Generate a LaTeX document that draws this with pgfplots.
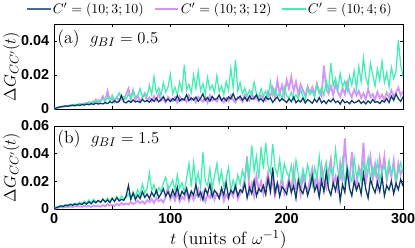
\documentclass[border=0pt]{standalone}
\usepackage{fontspec}
\usepackage{pgfplots}
\usepackage{pgfplotstable}
\pgfplotsset{compat=1.18}
\newfontfamily\tickfont{Liberation Sans}
\definecolor{cnavy}{RGB}{12,58,102}
\definecolor{cpurple}{RGB}{212,150,245}
\definecolor{cgreen}{RGB}{64,240,176}

\pgfplotstableread{
t n p g
0 0.0002 0.0001 0.0003
2 0.0006 0.0005 0.0008
4 0.0010 0.0009 0.0011
6 0.0013 0.0012 0.0015
8 0.0015 0.0016 0.0013
10 0.0018 0.0015 0.0019
12 0.0016 0.0020 0.0017
14 0.0020 0.0018 0.0024
16 0.0022 0.0023 0.0021
18 0.0019 0.0020 0.0028
20 0.0024 0.0026 0.0025
22 0.0021 0.0024 0.0032
24 0.0026 0.0030 0.0027
26 0.0023 0.0026 0.0036
28 0.0029 0.0035 0.0030
30 0.0025 0.0028 0.0042
32 0.0031 0.0040 0.0034
34 0.0027 0.0032 0.0048
36 0.0034 0.0055 0.0038
38 0.0029 0.0036 0.0055
40 0.0033 0.0046 0.0043
42 0.0030 0.0075 0.0062
44 0.0038 0.0042 0.0046
46 0.0032 0.0105 0.0070
48 0.0044 0.0050 0.0051
50 0.0036 0.0062 0.0082
52 0.0049 0.0041 0.0055
54 0.0038 0.0070 0.0068
56 0.0045 0.0048 0.0095
58 0.0080 0.0063 0.0060
60 0.0042 0.0052 0.0074
62 0.0036 0.0085 0.0058
64 0.0048 0.0120 0.0088
66 0.0039 0.0060 0.0063
68 0.0053 0.0110 0.0105
70 0.0041 0.0054 0.0070
72 0.0047 0.0078 0.0080
74 0.0038 0.0046 0.0120
76 0.0056 0.0065 0.0066
78 0.0043 0.0092 0.0094
80 0.0050 0.0050 0.0078
82 0.0040 0.0068 0.0140
84 0.0058 0.0045 0.0085
86 0.0045 0.0076 0.0190
88 0.0064 0.0053 0.0092
90 0.0042 0.0088 0.0125
92 0.0055 0.0048 0.0080
94 0.0073 0.0062 0.0155
96 0.0046 0.0039 0.0100
98 0.0059 0.0071 0.0130
100 0.0044 0.0055 0.0205
102 0.0062 0.0046 0.0090
104 0.0050 0.0069 0.0128
106 0.0078 0.0038 0.0082
108 0.0047 0.0074 0.0160
110 0.0060 0.0050 0.0105
112 0.0053 0.0061 0.0260
114 0.0084 0.0042 0.0112
116 0.0049 0.0080 0.0145
118 0.0065 0.0053 0.0095
120 0.0052 0.0064 0.0200
122 0.0070 0.0039 0.0120
124 0.0045 0.0072 0.0220
126 0.0063 0.0056 0.0108
128 0.0089 0.0043 0.0150
130 0.0051 0.0068 0.0088
132 0.0068 0.0037 0.0185
134 0.0046 0.0079 0.0115
136 0.0074 0.0049 0.0140
138 0.0055 0.0060 0.0096
140 0.0061 0.0044 0.0195
142 0.0082 0.0073 0.0102
144 0.0050 0.0051 0.0136
146 0.0066 0.0038 0.0085
148 0.0048 0.0065 0.0162
150 0.0071 0.0046 0.0110
152 0.0059 0.0081 0.0240
154 0.0090 0.0054 0.0125
156 0.0054 0.0039 0.0290
158 0.0063 0.0070 0.0106
160 0.0076 0.0057 0.0155
162 0.0052 0.0043 0.0088
164 0.0069 0.0084 0.0124
166 0.0047 0.0060 0.0076
168 0.0077 0.0048 0.0110
170 0.0058 0.0095 0.0082
172 0.0064 0.0056 0.0158
174 0.0083 0.0072 0.0090
176 0.0051 0.0045 0.0068
178 0.0060 0.0080 0.0120
180 0.0044 0.0063 0.0075
182 0.0072 0.0050 0.0105
184 0.0056 0.0102 0.0066
186 0.0065 0.0074 0.0160
188 0.0039 0.0125 0.0080
190 0.0058 0.0065 0.0118
192 0.0070 0.0168 0.0072
194 0.0046 0.0090 0.0096
196 0.0061 0.0140 0.0060
198 0.0050 0.0078 0.0130
200 0.0038 0.0170 0.0078
202 0.0060 0.0120 0.0064
204 0.0043 0.0190 0.0098
206 0.0071 0.0105 0.0056
208 0.0037 0.0160 0.0085
210 0.0052 0.0088 0.0060
212 0.0041 0.0145 0.0115
214 0.0064 0.0110 0.0070
216 0.0035 0.0076 0.0052
218 0.0055 0.0132 0.0120
220 0.0046 0.0095 0.0084
222 0.0034 0.0128 0.0105
224 0.0058 0.0084 0.0072
226 0.0040 0.0150 0.0140
228 0.0067 0.0102 0.0090
230 0.0036 0.0075 0.0125
232 0.0049 0.0255 0.0080
234 0.0032 0.0118 0.0165
236 0.0053 0.0090 0.0110
238 0.0042 0.0135 0.0270
240 0.0060 0.0082 0.0135
242 0.0038 0.0146 0.0180
244 0.0047 0.0100 0.0115
246 0.0029 0.0072 0.0210
248 0.0055 0.0123 0.0128
250 0.0037 0.0086 0.0165
252 0.0044 0.0158 0.0105
254 0.0031 0.0094 0.0195
256 0.0049 0.0068 0.0140
258 0.0036 0.0115 0.0225
260 0.0041 0.0080 0.0120
262 0.0052 0.0106 0.0250
264 0.0033 0.0065 0.0160
266 0.0045 0.0092 0.0300
268 0.0030 0.0058 0.0185
270 0.0048 0.0118 0.0140
272 0.0035 0.0070 0.0270
274 0.0056 0.0088 0.0200
276 0.0039 0.0056 0.0135
278 0.0044 0.0100 0.0235
280 0.0032 0.0064 0.0170
282 0.0050 0.0085 0.0280
284 0.0041 0.0054 0.0155
286 0.0062 0.0096 0.0215
288 0.0038 0.0068 0.0130
290 0.0075 0.0110 0.0245
292 0.0051 0.0072 0.0180
294 0.0088 0.0098 0.0220
296 0.0060 0.0125 0.0405
298 0.0045 0.0080 0.0260
300 0.0072 0.0105 0.0190
}\dataA

\pgfplotstableread{
t n p g
0 0.0003 0.0002 0.0004
2 0.0010 0.0006 0.0012
4 0.0016 0.0010 0.0020
6 0.0022 0.0013 0.0026
8 0.0019 0.0011 0.0022
10 0.0028 0.0016 0.0032
12 0.0024 0.0014 0.0028
14 0.0033 0.0019 0.0038
16 0.0027 0.0015 0.0031
18 0.0036 0.0022 0.0042
20 0.0030 0.0018 0.0035
22 0.0040 0.0020 0.0050
24 0.0032 0.0016 0.0036
26 0.0046 0.0024 0.0056
28 0.0035 0.0018 0.0042
30 0.0052 0.0021 0.0065
32 0.0038 0.0015 0.0046
34 0.0058 0.0026 0.0070
36 0.0044 0.0019 0.0052
38 0.0062 0.0023 0.0060
40 0.0048 0.0017 0.0048
42 0.0070 0.0028 0.0074
44 0.0050 0.0020 0.0054
46 0.0065 0.0034 0.0080
48 0.0046 0.0024 0.0060
50 0.0078 0.0030 0.0072
52 0.0054 0.0022 0.0058
54 0.0082 0.0038 0.0088
56 0.0058 0.0026 0.0064
58 0.0070 0.0044 0.0095
60 0.0062 0.0030 0.0070
62 0.0095 0.0040 0.0082
64 0.0170 0.0032 0.0110
66 0.0070 0.0050 0.0076
68 0.0115 0.0036 0.0125
70 0.0068 0.0046 0.0090
72 0.0102 0.0060 0.0140
74 0.0075 0.0042 0.0100
76 0.0125 0.0055 0.0180
78 0.0084 0.0038 0.0115
80 0.0108 0.0064 0.0150
82 0.0076 0.0050 0.0260
84 0.0120 0.0072 0.0130
86 0.0090 0.0044 0.0175
88 0.0135 0.0080 0.0110
90 0.0082 0.0056 0.0155
92 0.0110 0.0068 0.0124
94 0.0145 0.0048 0.0190
96 0.0092 0.0092 0.0230
98 0.0124 0.0160 0.0140
100 0.0086 0.0070 0.0170
102 0.0138 0.0105 0.0210
104 0.0095 0.0062 0.0135
106 0.0160 0.0120 0.0245
108 0.0080 0.0054 0.0150
110 0.0128 0.0090 0.0190
112 0.0104 0.0070 0.0125
114 0.0150 0.0135 0.0225
116 0.0078 0.0058 0.0330
118 0.0130 0.0110 0.0160
120 0.0100 0.0066 0.0335
122 0.0175 0.0098 0.0180
124 0.0090 0.0145 0.0260
126 0.0122 0.0075 0.0155
128 0.0065 0.0120 0.0410
130 0.0146 0.0055 0.0200
132 0.0108 0.0102 0.0170
134 0.0180 0.0080 0.0290
136 0.0088 0.0150 0.0145
138 0.0134 0.0068 0.0240
140 0.0112 0.0115 0.0330
142 0.0075 0.0086 0.0190
144 0.0152 0.0130 0.0275
146 0.0100 0.0058 0.0160
148 0.0190 0.0105 0.0220
150 0.0084 0.0074 0.0300
152 0.0136 0.0126 0.0135
154 0.0115 0.0090 0.0210
156 0.0165 0.0168 0.0150
158 0.0096 0.0072 0.0245
160 0.0140 0.0110 0.0180
162 0.0120 0.0145 0.0280
164 0.0185 0.0220 0.0210
166 0.0080 0.0380 0.0350
168 0.0155 0.0120 0.0240
170 0.0110 0.0185 0.0460
172 0.0205 0.0095 0.0275
174 0.0094 0.0240 0.0380
176 0.0148 0.0135 0.0220
178 0.0126 0.0200 0.0450
180 0.0170 0.0108 0.0290
182 0.0104 0.0175 0.0480
184 0.0220 0.0260 0.0310
186 0.0130 0.0125 0.0260
188 0.0300 0.0215 0.0470
190 0.0115 0.0098 0.0300
192 0.0188 0.0180 0.0245
194 0.0090 0.0145 0.0360
196 0.0162 0.0235 0.0200
198 0.0138 0.0110 0.0330
200 0.0106 0.0160 0.0270
202 0.0195 0.0220 0.0230
204 0.0120 0.0128 0.0315
206 0.0168 0.0285 0.0190
208 0.0075 0.0150 0.0350
210 0.0210 0.0195 0.0250
212 0.0140 0.0105 0.0185
214 0.0112 0.0250 0.0290
216 0.0180 0.0165 0.0215
218 0.0098 0.0130 0.0320
220 0.0155 0.0210 0.0240
222 0.0240 0.0290 0.0170
224 0.0130 0.0170 0.0300
226 0.0175 0.0240 0.0225
228 0.0086 0.0120 0.0380
230 0.0205 0.0310 0.0200
232 0.0124 0.0195 0.0270
234 0.0270 0.0150 0.0340
236 0.0145 0.0270 0.0195
238 0.0100 0.0360 0.0295
240 0.0190 0.0180 0.0250
242 0.0132 0.0235 0.0430
244 0.0225 0.0140 0.0280
246 0.0060 0.0330 0.0220
248 0.0178 0.0200 0.0355
250 0.0120 0.0510 0.0180
252 0.0285 0.0250 0.0310
254 0.0150 0.0185 0.0245
256 0.0095 0.0410 0.0200
258 0.0200 0.0220 0.0370
260 0.0135 0.0160 0.0230
262 0.0185 0.0300 0.0290
264 0.0108 0.0245 0.0195
266 0.0255 0.0480 0.0330
268 0.0142 0.0190 0.0260
270 0.0080 0.0280 0.0370
272 0.0215 0.0380 0.0210
274 0.0160 0.0215 0.0305
276 0.0118 0.0320 0.0245
278 0.0194 0.0175 0.0340
280 0.0126 0.0365 0.0205
282 0.0230 0.0260 0.0285
284 0.0095 0.0380 0.0310
286 0.0170 0.0205 0.0225
288 0.0138 0.0305 0.0350
290 0.0202 0.0230 0.0255
292 0.0110 0.0350 0.0300
294 0.0186 0.0180 0.0210
296 0.0140 0.0330 0.0270
298 0.0215 0.0250 0.0335
300 0.0165 0.0290 0.0260
}\dataB

\pgfplotsset{
  panel/.style={
    scale only axis,
    width=252.3pt,
    xmin=0, xmax=300,
    ymin=0,
    xtick={0,50,...,300},
    axis line style={line width=0.6pt},
    major tick length=2.5pt,
    tick style={line width=0.5pt, black},
    scaled ticks=false,
    tick label style={font=\tickfont\bfseries\fontsize{10.4}{12}\selectfont},
    /pgf/number format/assume math mode=true,
    ylabel={$\Delta G_{CC'}(t)$},
    ylabel style={at={(axis description cs:-0.122,0.5)}, anchor=center, font=\fontsize{12.8}{15}\selectfont},
  }
}

\begin{document}
\begin{tikzpicture}
\path[use as bounding box] (-39.04pt,78.80pt) rectangle (260.97pt,-100.48pt);

\begin{axis}[panel,
  at={(0pt,0pt)}, anchor=south west,
  height=61.45pt,
  ymax=0.05,
  ytick={0,0.02,0.04},
  yticklabels={0,0.02,0.04},
  xticklabels={},
  legend style={at={(0.447,1.176)}, anchor=center, draw=none, fill=none,
    legend columns=3, font=\fontsize{10.4}{12}\selectfont,
    /tikz/every even column/.append style={column sep=6pt},
    nodes={inner sep=1.2pt}},
  legend image code/.code={\draw[#1] (0pt,0pt) -- (17pt,0pt);},
]
\addlegendimage{cnavy!75, line width=0.9pt}
\addlegendentry{$C'=(10;3;10)$}
\addlegendimage{cpurple, line width=1.4pt}
\addlegendentry{$C'=(10;3;12)$}
\addlegendimage{cgreen, line width=0.9pt}
\addlegendentry{$C'=(10;4;6)$}
\addplot[cpurple, line width=1.3pt, forget plot] table[x=t, y=p] {\dataA};
\addplot[cgreen, line width=0.9pt, forget plot] table[x=t, y=g] {\dataA};
\addplot[cnavy, line width=0.9pt, forget plot] table[x=t, y=n] {\dataA};
\node[anchor=west, inner sep=0pt] at (rel axis cs:0.009,0.82)
  {\fontsize{12.8}{15}\selectfont (a)\hspace{0.6em}$g_{BI}=0.5$};
\end{axis}

\begin{axis}[panel,
  at={(0pt,-72.29pt)}, anchor=south west,
  height=60pt,
  ymax=0.06,
  ytick={0,0.02,0.04,0.06},
  yticklabels={0,0.02,0.04,0.06},
  xticklabels={0,,100,,200,,300},
  xlabel={$t$ (units of $\omega^{-1}$)},
  xlabel style={at={(axis description cs:0.5,-0.373)}, anchor=center, font=\fontsize{12.8}{15}\selectfont},
]
\addplot[cpurple, line width=1.3pt] table[x=t, y=p] {\dataB};
\addplot[cgreen, line width=0.9pt] table[x=t, y=g] {\dataB};
\addplot[cnavy, line width=0.9pt] table[x=t, y=n] {\dataB};
\node[anchor=west, inner sep=0pt] at (rel axis cs:0.009,0.843)
  {\fontsize{12.8}{15}\selectfont (b)\hspace{0.6em}$g_{BI}=1.5$};
\end{axis}
\end{tikzpicture}
\end{document}
